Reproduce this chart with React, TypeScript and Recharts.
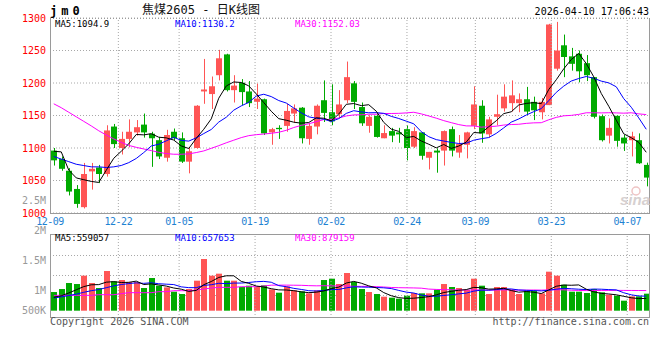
import {
  ComposedChart,
  Bar,
  Line,
  XAxis,
  YAxis,
  CartesianGrid,
  ReferenceLine,
} from 'recharts';

// trading days shown on the chart (MM-DD)
const dates = [
  '12-09', '12-10', '12-11', '12-12', '12-15', '12-16', '12-17', '12-18', '12-19', '12-22',
  '12-23', '12-24', '12-25', '12-26', '12-29', '12-30', '12-31', '01-05', '01-06', '01-07',
  '01-08', '01-09', '01-12', '01-13', '01-14', '01-15', '01-16', '01-19', '01-20', '01-21',
  '01-22', '01-23', '01-26', '01-27', '01-28', '01-29', '01-30', '02-02', '02-03', '02-04',
  '02-05', '02-06', '02-09', '02-10', '02-11', '02-12', '02-13', '02-24', '02-25', '02-26',
  '02-27', '03-02', '03-03', '03-04', '03-05', '03-06', '03-09', '03-10', '03-11', '03-12',
  '03-13', '03-16', '03-17', '03-18', '03-19', '03-20', '03-23', '03-24', '03-25', '03-26',
  '03-27', '03-30', '03-31', '04-01', '04-02', '04-03', '04-07', '04-08', '04-09', '04-10',
];

const open = [
  1096, 1083, 1065, 1037, 1009, 1064, 1070, 1060, 1133, 1100,
  1114, 1124, 1136, 1122, 1112, 1085, 1125, 1115, 1079, 1100,
  1187, 1183, 1212, 1244, 1189, 1200.5, 1187, 1171, 1175, 1124,
  1131, 1134, 1153, 1162, 1114, 1133, 1173.5, 1155, 1152, 1173.5,
  1199.5, 1163, 1134, 1149.5, 1115, 1126, 1124, 1129, 1102, 1124,
  1085, 1096, 1096, 1129, 1093, 1105, 1134, 1165, 1121, 1148,
  1161, 1169, 1169, 1175, 1171, 1155, 1166, 1222, 1258, 1241,
  1245, 1230.5, 1209, 1149, 1119, 1149.5, 1116, 1112, 1112, 1074,
];
const high = [
  1100, 1087, 1069, 1043, 1077, 1077, 1074, 1135, 1137, 1125,
  1144, 1143, 1153, 1125, 1117, 1128, 1130, 1124, 1100, 1166,
  1237, 1210, 1251, 1245, 1212, 1206, 1203, 1199, 1176, 1131,
  1135, 1168, 1167, 1163, 1138, 1167, 1204, 1198, 1189, 1233,
  1203, 1170, 1150.5, 1153, 1135, 1131, 1131, 1135, 1132, 1124,
  1094, 1099.5, 1127, 1133, 1120, 1125, 1195, 1173.5, 1148, 1182,
  1198, 1204, 1184, 1194, 1179, 1177, 1291, 1294, 1274.5, 1254,
  1250, 1243, 1209, 1151.5, 1145.5, 1150, 1120, 1125, 1122.5, 1077.5,
];
const low = [
  1073, 1065, 1027, 1008, 1007, 1036, 1046, 1056, 1100, 1090,
  1101, 1119, 1116, 1071, 1083, 1079, 1112, 1077, 1061, 1099,
  1168, 1160, 1204, 1187, 1170, 1166, 1163, 1160, 1120, 1105,
  1114, 1125, 1139, 1107, 1105, 1121, 1140, 1135, 1146, 1169,
  1160, 1134, 1123.5, 1116, 1115, 1109, 1108, 1081, 1100, 1082,
  1067, 1062, 1073, 1087, 1085, 1084, 1129, 1108, 1116, 1135,
  1156, 1156, 1155, 1150.5, 1143, 1144, 1166, 1219, 1209, 1219,
  1201, 1203, 1145.5, 1110, 1107, 1102, 1095.5, 1087, 1075.5, 1041,
];
const close = [
  1081, 1068, 1033, 1014, 1060, 1068, 1060, 1127, 1106, 1114,
  1125, 1132, 1124, 1115, 1087, 1120, 1115, 1079, 1095, 1165,
  1190, 1195, 1238, 1189, 1196, 1186, 1169, 1176, 1122.5, 1129,
  1129, 1157, 1161, 1115, 1134, 1165, 1154, 1141, 1167, 1209,
  1171, 1138, 1148, 1117, 1123, 1119, 1121, 1100, 1126, 1088,
  1094, 1093, 1126, 1096, 1106, 1124, 1167, 1122.5, 1144, 1152,
  1179, 1181, 1175, 1156, 1158, 1171, 1290, 1250, 1240, 1229.5,
  1218, 1212, 1148, 1112, 1131, 1111, 1107, 1118, 1076.5, 1054.5,
];

// moving averages as drawn on the price panel
const ma5 = [
  1095, 1094, 1066, 1054, 1051.2, 1048.6, 1047, 1065.8, 1084.2, 1095,
  1106.4, 1120.8, 1120.2, 1122, 1116.6, 1115.6, 1112.2, 1103.2, 1099.2, 1114.8,
  1128.8, 1144.8, 1176.6, 1195.4, 1201.6, 1200.8, 1195.6, 1183.2, 1169.9, 1156.5,
  1145.1, 1142.7, 1139.7, 1138.2, 1139.2, 1146.4, 1145.8, 1141.8, 1152.2, 1167.2,
  1168.4, 1165.2, 1166.6, 1156.6, 1139.4, 1129, 1125.6, 1116, 1117.8, 1110.8,
  1105.8, 1100.2, 1105.4, 1099.4, 1103, 1109, 1123.8, 1123.1, 1132.7, 1141.9,
  1152.9, 1155.7, 1166.2, 1168.6, 1169.8, 1168.2, 1190, 1205, 1221.8, 1236.1,
  1245.5, 1229.9, 1209.5, 1183.9, 1164.2, 1142.8, 1121.8, 1115.8, 1108.7, 1093.4,
];
const ma10 = [
  1087, 1083, 1079, 1075, 1073, 1071, 1071, 1070, 1071, 1073.1,
  1077.5, 1083.9, 1093, 1103.1, 1105.8, 1111, 1116.5, 1111.7, 1110.6, 1115.7,
  1122.2, 1128.5, 1139.9, 1147.3, 1158.2, 1164.8, 1170.2, 1179.9, 1182.7, 1179.1,
  1173, 1169.2, 1161.5, 1154.1, 1147.9, 1145.8, 1144.3, 1140.8, 1145.2, 1153.2,
  1157.4, 1155.5, 1154.2, 1154.4, 1153.3, 1148.7, 1145.4, 1141.3, 1137.2, 1125.1,
  1117.4, 1112.9, 1110.7, 1108.6, 1106.9, 1107.4, 1112, 1114.3, 1116.1, 1122.5,
  1131, 1139.8, 1144.7, 1150.7, 1155.9, 1160.6, 1172.9, 1185.6, 1195.2, 1203,
  1206.9, 1210, 1207.3, 1202.9, 1200.2, 1194.2, 1175.9, 1162.7, 1146.3, 1128.8,
];
const ma30 = [
  1168, 1162, 1155, 1148, 1141, 1134, 1126.5, 1120, 1114, 1108.7,
  1104, 1101, 1098.5, 1096, 1093.4, 1091.4, 1090.4, 1090.4, 1091, 1093,
  1095.5, 1099.5, 1103.6, 1108, 1112, 1116, 1119, 1120.5, 1121.5, 1122.6,
  1124.2, 1127.2, 1131.5, 1134.8, 1137.3, 1140.5, 1143.7, 1144.1, 1146.2, 1149.3,
  1150.9, 1151.1, 1151.9, 1151.9, 1153.1, 1153.1, 1153.3, 1154, 1155, 1152.5,
  1149.3, 1145.9, 1142.1, 1139, 1136, 1134, 1133.9, 1132.1, 1132.8, 1133.6,
  1135.3, 1136.1, 1136.5, 1137.9, 1138.7, 1138.9, 1143.4, 1147.1, 1149.5, 1150.2,
  1151.7, 1154.2, 1154.2, 1154, 1154.3, 1154, 1153.6, 1154.2, 1152.5, 1151.4,
];

// volume, thousands of lots
const volumeK = [
  812, 942, 1204, 1160, 1523, 1204, 986, 1726, 1276, 1334,
  1247, 1247, 986, 1421, 1088, 1015, 827, 725, 943, 1305,
  2248, 1523, 1610, 1305, 1305, 1030, 1088, 1030, 1102, 928,
  783, 1059, 885, 841, 754, 885, 1334, 1392, 1160, 1639,
  1247, 943, 812, 725, 609, 566, 522, 653, 769, 754,
  754, 914, 1160, 1030, 986, 899, 1392, 1088, 725, 1030,
  1030, 914, 725, 870, 870, 754, 1697, 1523, 1131, 827,
  827, 769, 943, 798, 696, 653, 435, 624, 624, 740,
];
const volMa5K = [
  580, 650, 770, 910, 1048, 1127, 1135, 1240, 1263, 1225,
  1234, 1286, 1138, 1167, 1118, 1071, 987, 935, 840, 883,
  1130, 1269, 1446, 1518, 1518, 1275, 1188, 1072, 1031, 956,
  906, 900, 871, 819, 784, 805, 860, 961, 1025, 1202,
  1274, 1196, 1080, 993, 787, 651, 567, 535, 544, 573,
  610, 689, 790, 842, 889, 918, 1013, 999, 938, 947,
  973, 877, 805, 834, 802, 747, 903, 1063, 1115, 1106,
  1121, 935, 819, 753, 727, 692, 625, 561, 526, 535,
];
const volMa10K = [
  550, 600, 660, 720, 800, 870, 920, 1000, 1080, 1137,
  1180, 1211, 1189, 1215, 1172, 1153, 1137, 1037, 1003, 1000,
  1101, 1128, 1191, 1179, 1201, 1202, 1228, 1259, 1275, 1237,
  1090, 1044, 972, 925, 870, 856, 880, 916, 922, 993,
  1040, 1028, 1021, 1009, 995, 963, 882, 808, 769, 680,
  631, 628, 663, 693, 731, 764, 851, 895, 890, 918,
  945, 945, 902, 886, 874, 860, 890, 934, 974, 954,
  934, 919, 941, 934, 917, 906, 780, 690, 640, 631,
];
const volMa30K = [
  667, 667, 667, 667, 667, 667, 696, 696, 696, 740,
  783, 783, 783, 783, 827, 827, 870, 870, 870, 899,
  943, 986, 1015, 1015, 1015, 1044, 1044, 1044, 1073, 1110,
  1112, 1112, 1108, 1104, 1090, 1082, 1086, 1080, 1076, 1080,
  1060, 1058, 1055, 1045, 1030, 1010, 1000, 995, 990, 980,
  940, 925, 915, 910, 900, 895, 905, 905, 895, 900,
  905, 900, 895, 895, 900, 895, 905, 910, 910, 890,
  880, 875, 878, 880, 882, 884, 882, 880, 877, 876,
];

const priceTicks = [1000, 1050, 1100, 1150, 1200, 1250, 1300];
const axisDates = ['12-09', '12-22', '01-05', '01-19', '02-02', '02-24', '03-09', '03-23', '04-07'];
const volAxisLabels = ['2.5M', '2M', '1.5M', '1M', '500K'];
const volAxisLabelY = [203.5, 233.5, 264, 294, 314];

const RED = '#ff5555';
const GREEN = '#00aa00';
const GRID = '#a8a8a8';
const BORDER = '#9a9a9a';
const MONO = "'DejaVu Sans Mono', 'Liberation Mono', monospace";
const TITLE_FONT = "'DejaVu Sans Mono', 'Noto Sans CJK SC', sans-serif";
const DATE_BASELINE = 225;

const rows = dates.map((date, i) => ({
  date,
  idx: i,
  open: open[i],
  high: high[i],
  low: low[i],
  close: close[i],
  ma5: ma5[i],
  ma10: ma10[i],
  ma30: ma30[i],
  vol: volumeK[i],
  vma5: volMa5K[i],
  vma10: volMa10K[i],
  vma30: volMa30K[i],
}));

// sina spaces its grid over n-1 steps, so the grid drifts from the candles
const gridIdx = axisDates.map((d) => dates.indexOf(d));

function renderCandle(p: any) {
  const { x, y, width, height, payload } = p;
  const up = payload.close >= payload.open;
  const color = up ? RED : GREEN;
  const top = Math.min(y, y + height);
  const h = Math.abs(height);
  const span = payload.high - payload.low || 1;
  const toY = (v: number) => top + ((payload.high - v) / span) * h;
  const bTop = toY(Math.max(payload.open, payload.close));
  const bBot = toY(Math.min(payload.open, payload.close));
  const left = Math.round(x);
  const w = Math.round(width);
  const cx = left + Math.floor(w / 2) + 0.5;
  return (
    <g>
      <line x1={cx} x2={cx} y1={top} y2={top + h} stroke={color} strokeWidth={1} />
      <rect x={left} y={bTop} width={w} height={Math.max(bBot - bTop, 1)} fill={color} />
    </g>
  );
}

function renderVolBar(p: any) {
  const { x, y, width, height, payload } = p;
  const up = payload.close >= payload.open;
  return (
    <rect
      x={Math.round(x)}
      y={Math.min(y, y + height)}
      width={Math.round(width)}
      height={Math.abs(height)}
      fill={up ? RED : GREEN}
    />
  );
}

function DateTick({ x, payload }: any) {
  return (
    <text
      x={x}
      y={DATE_BASELINE}
      textAnchor="middle"
      fill="#1e82d2"
      fontSize={10}
      fontFamily={MONO}
      letterSpacing={-0.5}
    >
      {dates[payload.value]}
    </text>
  );
}

export default function App() {
  return (
    <div style={{ position: 'relative', width: 660, height: 360, background: '#fff' }}>
      <style>{'body{margin:0}'}</style>

      {/* price panel */}
      <div style={{ position: 'absolute', left: 0, top: 0 }}>
        <ComposedChart width={660} height={232} data={rows} margin={{ top: 18, right: 10, bottom: 0, left: 0 }}>
          <CartesianGrid vertical={false} stroke={GRID} strokeDasharray="1 2" />
          <XAxis dataKey="date" hide />
          <XAxis
            xAxisId="g"
            dataKey="idx"
            type="number"
            domain={[0, dates.length - 1]}
            allowDataOverflow
            ticks={gridIdx}
            interval={0}
            tick={<DateTick />}
            tickLine={false}
            axisLine={false}
            tickSize={0}
            tickMargin={0}
            height={19}
          />
          <YAxis
            domain={[1000, 1300]}
            ticks={priceTicks}
            interval={0}
            width={50}
            tickLine={false}
            axisLine={false}
            tickSize={0}
            tickMargin={4}
            tick={{ fill: '#ff0000', fontSize: 10, fontFamily: MONO }}
          />
          {gridIdx.slice(1).map((gi) => (
            <ReferenceLine key={gi} xAxisId="g" x={gi} stroke={GRID} strokeDasharray="1 2" />
          ))}
          <Bar
            dataKey={(d: any) => [d.low, d.high]}
            barSize={6}
            shape={renderCandle}
            isAnimationActive={false}
          />
          <Line type="linear" dataKey="ma30" stroke="#ff00ff" strokeWidth={1} dot={false} isAnimationActive={false} />
          <Line type="linear" dataKey="ma10" stroke="#0000ff" strokeWidth={1} dot={false} isAnimationActive={false} />
          <Line type="linear" dataKey="ma5" stroke="#000000" strokeWidth={1} dot={false} isAnimationActive={false} />
        </ComposedChart>
      </div>

      {/* volume panel */}
      <div style={{ position: 'absolute', left: 0, top: 234 }}>
        <ComposedChart width={660} height={84} data={rows} margin={{ top: 0, right: 10, bottom: 0, left: 50 }}>
          <CartesianGrid vertical={false} horizontalPoints={[21.5, 41.5, 61.5]} stroke={GRID} strokeDasharray="1 2" />
          <XAxis dataKey="date" hide />
          <XAxis xAxisId="g" dataKey="idx" type="number" domain={[0, dates.length - 1]} allowDataOverflow hide />
          <YAxis hide domain={[-318, 3336]} allowDataOverflow />
          {gridIdx.slice(1).map((gi) => (
            <ReferenceLine key={gi} xAxisId="g" x={gi} stroke={GRID} strokeDasharray="1 2" />
          ))}
          <Bar dataKey="vol" barSize={6} shape={renderVolBar} isAnimationActive={false} />
          <Line type="linear" dataKey="vma30" stroke="#ff00ff" strokeWidth={1} dot={false} isAnimationActive={false} />
          <Line type="linear" dataKey="vma10" stroke="#0000ff" strokeWidth={1} dot={false} isAnimationActive={false} />
          <Line type="linear" dataKey="vma5" stroke="#000000" strokeWidth={1} dot={false} isAnimationActive={false} />
        </ComposedChart>
      </div>

      {/* frame, titles and legends */}
      <svg width={660} height={360} style={{ position: 'absolute', left: 0, top: 0, pointerEvents: 'none' }}>
        <line x1={50.5} y1={18} x2={50.5} y2={214} stroke={BORDER} />
        <line x1={649.5} y1={18} x2={649.5} y2={214} stroke={BORDER} />
        <line x1={50} y1={213.5} x2={650} y2={213.5} stroke={BORDER} />
        <line x1={50} y1={18.5} x2={650} y2={18.5} stroke={BORDER} strokeDasharray="1 2" />
        <rect x={50.5} y={234.5} width={599} height={83} fill="none" stroke={BORDER} />

        <text x={50} y={15} fontFamily={MONO} fontSize={12} fontWeight="bold" letterSpacing={4} fill="#000">
          jm0
        </text>
        <text x={201} y={14} textAnchor="middle" fontFamily={TITLE_FONT} fontSize={12} fill="#111">
          焦煤2605 - 日K线图
        </text>
        <text x={649} y={15} textAnchor="end" fontFamily={MONO} fontSize={10} fill="#000">
          2026-04-10 17:06:43
        </text>

        <text x={55} y={26.5} fontFamily={MONO} fontSize={9} fill="#000">MA5:1094.9</text>
        <text x={175} y={26.5} fontFamily={MONO} fontSize={9} fill="#0000ff">MA10:1130.2</text>
        <text x={295} y={26.5} fontFamily={MONO} fontSize={9} fill="#ff00ff">MA30:1152.03</text>

        <text x={55} y={240.5} fontFamily={MONO} fontSize={9} fill="#000">MA5:559057</text>
        <text x={175} y={240.5} fontFamily={MONO} fontSize={9} fill="#0000ff">MA10:657653</text>
        <text x={295} y={240.5} fontFamily={MONO} fontSize={9} fill="#ff00ff">MA30:879159</text>

        {volAxisLabels.map((t, i) => (
          <text key={t} x={46} y={volAxisLabelY[i]} textAnchor="end" fontFamily={MONO} fontSize={10} fill="#999">
            {t}
          </text>
        ))}

        <circle cx={636} cy={191} r={4} fill="none" stroke="#efc4c4" strokeWidth={1.5} />
        <text x={620} y={205} fontFamily="'Liberation Sans', sans-serif" fontSize={15} fontStyle="italic" fontWeight="bold" fill="#d6d0d0">
          sina
        </text>

        <text x={50} y={325} fontFamily={MONO} fontSize={10} fill="#555">Copyright 2026 SINA.COM</text>
        <text x={649} y={325} textAnchor="end" fontFamily={MONO} fontSize={10} fill="#555">
          http://finance.sina.com.cn
        </text>
      </svg>
    </div>
  );
}
